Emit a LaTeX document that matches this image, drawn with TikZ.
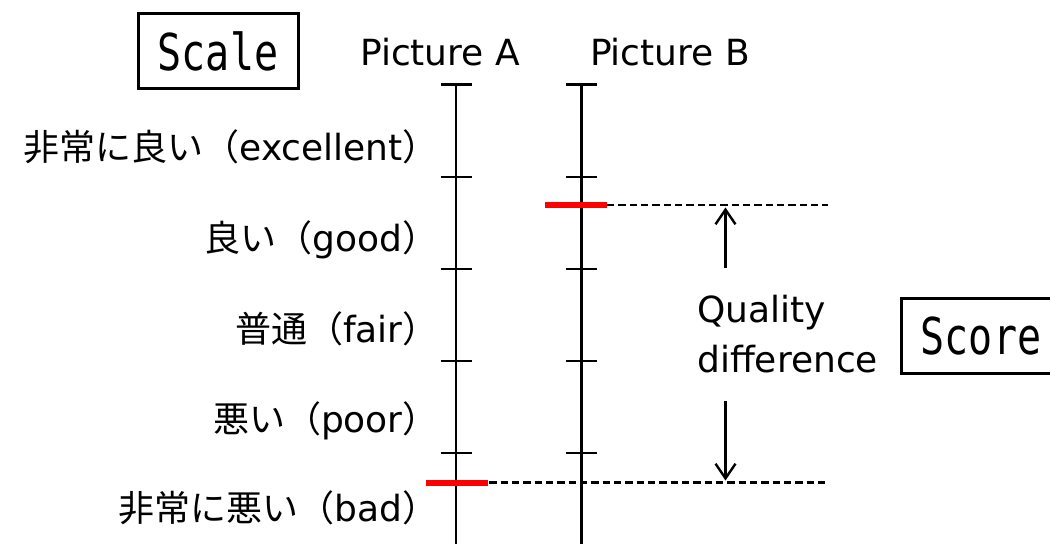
\documentclass[tikz,border=0pt]{standalone}
\usepackage{fontspec}
\usepackage{graphicx}
\setmainfont{DejaVu Sans}
\newfontfamily\cjk{Noto Sans CJK JP}
\newfontfamily\gothmono{DejaVu Sans Mono}
\usetikzlibrary{arrows.meta}
% Japanese words set in a CJK face, Latin words in the main face
\newcommand{\jp}[1]{{\cjk #1}}
% a rating label: Japanese name, then the English name in full-width brackets
\newcommand{\ratingtext}[2]{\jp{#1（}#2\jp{）}}
% condensed-looking monospaced caption text
\newcommand{\tallmono}[1]{\scalebox{1}[1.27]{\gothmono #1}}

\begin{document}
\begin{tikzpicture}[x=0.75pt,y=-0.75pt,
  txt/.style={font=\fontsize{27}{37.5}\selectfont, inner sep=0pt},
  pic/.style={txt, anchor=base},
  rating/.style={txt, anchor=base east},
  titlebox/.style={draw, line width=2.25pt, inner sep=0pt,
    minimum width=120pt, minimum height=56pt,
    font=\fontsize{30}{32}\selectfont},
  axis/.style={line width=2.1pt},
  tickmark/.style={line width=2.1pt},
  score/.style={draw=red, line width=4.5pt},
  guide/.style={line width=1.6pt, dash pattern=on 5.5pt off 3pt},
  diffarrow/.style={line width=1.8pt, -{Straight Barb[length=11pt,width=15pt]}},
]
\useasboundingbox (0,0) rectangle (1050,543);

% caption boxes
\node[titlebox] (scale) at (218,51) {\tallmono{Scale}};
\node[titlebox] (scorebox) at (981,336) {\tallmono{Score}};

% column headings
\node[pic] (picA) at (440,65) {Picture A};
\node[pic] (picB) at (670,65) {Picture B};

% rating categories
\node[rating] (r5) at (439,160) {\ratingtext{非常に良い}{excellent}};
\node[rating] (r4) at (439,251) {\ratingtext{良い}{good}};
\node[rating] (r3) at (439,342) {\ratingtext{普通}{fair}};
\node[rating] (r2) at (439,432) {\ratingtext{悪い}{poor}};
\node[rating] (r1) at (439,521) {\ratingtext{非常に悪い}{bad}};

% the two rating scales
\coordinate (Atop) at (456,84.5);
\coordinate (Abot) at (456,546);
\coordinate (Btop) at (581.5,84.5);
\coordinate (Bbot) at (581.5,546);
\draw[axis] (Atop) -- (Abot);
\draw[axis] (Btop) -- (Bbot);
\foreach \y in {84.5,177,269,361,453} {
  \draw[tickmark] (440.5,\y) -- ++(31,0);
  \draw[tickmark] (566,\y) -- ++(31,0);
}

% scores given to each picture, with guide lines
\coordinate (hiL) at (607,205);
\coordinate (hiR) at (828,205);
\coordinate (loL) at (478,482.5);
\coordinate (loR) at (826,482.5);
\draw[guide] (hiL) -- (hiR);
\draw[guide] (loL) -- (loR);
\coordinate (scoreB1) at (545,205);
\coordinate (scoreB2) at (607,205);
\coordinate (scoreA1) at (426,483);
\coordinate (scoreA2) at (488,483);
\draw[score] (scoreB1) -- (scoreB2);
\draw[score] (scoreA1) -- (scoreA2);

% quality difference between the two scores
\node[txt, anchor=base west, align=left] (qd) at (697,372) {Quality\\difference};
\coordinate (upFrom) at (725.5,268);
\coordinate (upTo) at (725.5,207.5);
\coordinate (dnFrom) at (725.5,401);
\coordinate (dnTo) at (725.5,480.5);
\draw[diffarrow] (upFrom) -- (upTo);
\draw[diffarrow] (dnFrom) -- (dnTo);
\end{tikzpicture}
\end{document}
